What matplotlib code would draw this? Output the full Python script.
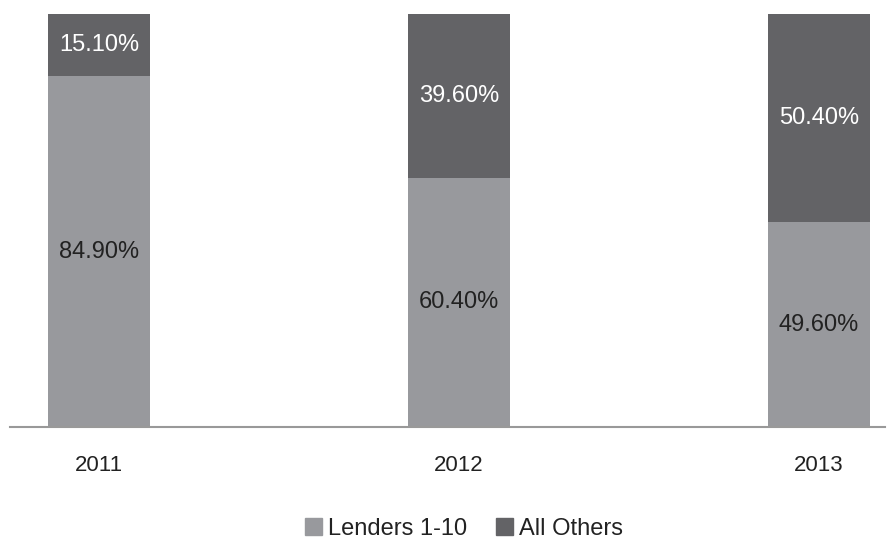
import numpy as np
import matplotlib.pyplot as plt
from matplotlib.patches import Patch

# Data
years = ['2011', '2012', '2013']
lenders_top10 = [84.9, 60.4, 49.6]
all_others = [15.1, 39.6, 50.4]

light = '#98999d'
dark = '#636366'

plt.rcParams['font.family'] = ['Liberation Sans', 'DejaVu Sans']

fig = plt.figure(figsize=(8.95, 5.4), dpi=100)
ax = fig.add_axes([10 / 895, 113 / 540, 875 / 895, 413 / 540])

x = np.arange(len(years))
w = 0.283
lo = np.array(lenders_top10) / 100
hi = np.array(all_others) / 100

ax.bar(x, lo, w, color=light)
ax.bar(x, hi, w, bottom=lo, color=dark)

# Labels centred in each segment
for i in range(len(years)):
    ax.text(x[i], lo[i] / 2, f'{lenders_top10[i]:.2f}%', ha='center', va='center',
            fontsize=17, color='#222222')
    ax.text(x[i], lo[i] + hi[i] / 2, f'{all_others[i]:.2f}%', ha='center', va='center',
            fontsize=17, color='white')

ax.set_xlim(-0.2472, 2.183)
ax.set_ylim(0, 1)
ax.set_xticks(x)
ax.set_xticklabels(years, fontsize=16, color='#222222')
ax.tick_params(axis='x', length=0, pad=20)
ax.set_yticks([])
for s in ['top', 'right', 'left']:
    ax.spines[s].set_visible(False)
ax.spines['bottom'].set_color('#999999')
ax.spines['bottom'].set_linewidth(1.5)

handles = [Patch(color=light, label='Lenders 1-10'), Patch(color=dark, label='All Others')]
fig.legend(handles=handles, loc='center', bbox_to_anchor=(464 / 895, 1 - 529 / 540),
           ncol=2, frameon=False, fontsize=17, handlelength=0.7, handleheight=0.7,
           handletextpad=0.25, columnspacing=1.25, labelcolor='#222222',
           borderpad=0, borderaxespad=0)

fig.savefig('out.png', dpi=100)
